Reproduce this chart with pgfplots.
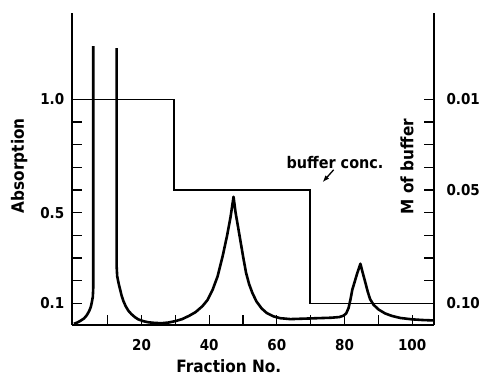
\documentclass[border=0pt]{standalone}
\usepackage{fontspec}
\setmainfont{DejaVu Sans Condensed}
\usepackage{pgfplots}
\pgfplotsset{compat=1.18}
\usetikzlibrary{arrows.meta}
\begin{document}
\begin{tikzpicture}
\useasboundingbox (0,0) rectangle (480bp,376bp);
\pgfplotsset{
  common/.style={
    at={(71.7bp,51bp)}, anchor=south west, scale only axis,
    width=362.3bp, height=312bp,
    xmin=-0.65, xmax=106.46, ymin=0.005, ymax=1.38,
    major tick length=10bp,
    tick style={line width=1.2bp, black},
    ticklabel style={font=\fontsize{15bp}{18bp}\selectfont\bfseries},
  },
  fixlines/.style={
    axis line style={line width=1.8bp, -},
    every outer x axis line/.append style={-},
    every outer y axis line/.append style={-},
    x axis line style={-}, y axis line style={-},
    tick align=inside,
  }
}
\begin{axis}[common,
  axis x line=bottom, axis y line=left, fixlines,
  xtick={10,20,...,100}, xticklabels={,20,,40,,60,,80,,100},
  xticklabel style={yshift=-11bp},
  ytick={0.1,0.2,0.3,0.4,0.5,0.6,0.7,0.8,0.9,1.0},
  yticklabels={0.1,,,,0.5,,,,,1.0},
  yticklabel style={xshift=-4bp},
  clip=false]
% buffer concentration step
\addplot[black, line width=1.2bp] coordinates {
(-0.65,1) (29.6,1) (29.6,0.6) (69.8,0.6) (69.8,0.1) (106.46,0.1)};
% absorption, part before off-scale region
\addplot[black, line width=2.6bp, line join=round] coordinates {
(0,0.01) (1,0.016) (2,0.024) (3,0.034) (3.8,0.048) (4.5,0.066) (5,0.085)
(5.3,0.105) (5.6,0.13) (5.72,0.17) (5.72,1.234)};
% absorption, after off-scale region
\addplot[black, line width=2.6bp, line join=round] coordinates {
(12.65,1.225) (12.65,0.26) (12.8,0.22) (13.2,0.19) (13.6,0.165) (14.1,0.135)
(14.6,0.112) (15.3,0.088) (16.1,0.068) (17,0.053) (18,0.04) (19,0.03)
(20.5,0.022) (22,0.017) (24,0.014) (26,0.013) (28,0.016) (30,0.022)
(32,0.031) (34,0.045) (36,0.062) (38,0.088) (39.5,0.115) (41,0.16)
(42.5,0.22) (44,0.31) (45.3,0.4) (46.3,0.48) (47.2,0.57) (47.8,0.5)
(48.5,0.44) (49.3,0.37) (50.1,0.3) (50.9,0.235) (51.8,0.185) (52.8,0.145)
(54,0.108) (55.5,0.078) (57,0.058) (59,0.043) (61,0.035) (64,0.031)
(68,0.033) (72,0.035) (76,0.037) (78.5,0.04) (79.7,0.046) (80.5,0.056)
(81.2,0.08) (81.8,0.12) (82.3,0.16) (83,0.195) (83.8,0.235) (84.7,0.275)
(85.3,0.24) (86.2,0.19) (86.9,0.15) (87.6,0.118) (88.6,0.094) (90.1,0.073)
(92,0.056) (94,0.045) (96.5,0.036) (99.9,0.03) (103,0.027) (106.4,0.025)};
\node[rotate=90, font=\fontsize{17bp}{20bp}\selectfont\bfseries] at (axis cs:-16.2,0.707) {Absorption};
\node[rotate=90, font=\fontsize{17bp}{20bp}\selectfont\bfseries] at (axis cs:98.5,0.703) {M of buffer};
\node[font=\fontsize{16bp}{19bp}\selectfont\bfseries] at (axis cs:77.2,0.719) {buffer conc.};
\node[font=\fontsize{17bp}{20bp}\selectfont\bfseries] at (axis cs:45.8,-0.176) {Fraction No.};
\draw[line width=1.3bp, -{Latex[length=7bp,width=5bp]}] (axis cs:76.8,0.689) -- (axis cs:73.5,0.634);
\end{axis}
\begin{axis}[common,
  axis x line=none, axis y line=right, fixlines,
  ytick={0.1,0.2,0.3,0.4,0.5,0.6,0.7,0.8,0.9,1.0},
  yticklabels={0.10,,,,,0.05,,,,0.01},
  yticklabel style={xshift=9bp}]
\end{axis}
\end{tikzpicture}
\end{document}
